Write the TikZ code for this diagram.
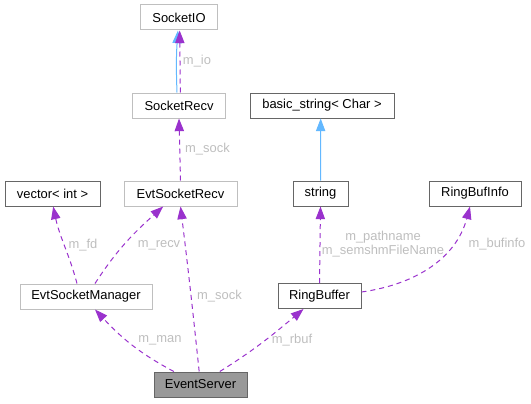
\documentclass[tikz,border=0pt]{standalone}
\usepackage{fontspec}
\setmainfont{Liberation Sans}
\usetikzlibrary{arrows.meta}
\definecolor{edgepurple}{HTML}{9A32CD}
\definecolor{edgeblue}{HTML}{63B8FF}
\definecolor{labelgrey}{HTML}{BEBEBE}
\definecolor{undocgrey}{HTML}{BFBFBF}
\definecolor{docgrey}{HTML}{666666}
\definecolor{selfgrey}{HTML}{999999}

\begin{document}
\begin{tikzpicture}[x=0.75pt,y=-0.75pt,
  txt/.style={font=\fontsize{9.7}{11}\selectfont},
  classbox/.style={txt,draw=docgrey,line width=0.75pt,minimum height=18.75pt,inner sep=0pt},
  extbox/.style={classbox,draw=undocgrey},
  selfbox/.style={classbox,fill=selfgrey},
  member/.style={draw=edgepurple,line width=0.75pt,dash pattern=on 3.75pt off 3pt,-{Triangle[length=9.5pt,width=7pt]}},
  inherit/.style={draw=edgeblue,line width=0.75pt,-{Triangle[length=9.5pt,width=7pt]}},
  memname/.style={txt,text=labelgrey,inner sep=0pt,align=center}]
\useasboundingbox (0,0) rectangle (531,403);
% top row
  \node[extbox,minimum width=57.5pt] (SocketIO) at (179,17.5) {SocketIO};
% second row
  \node[extbox,minimum width=69.5pt] (SocketRecv) at (179,105.5) {SocketRecv};
  \node[classbox,minimum width=108pt] (BasicString) at (322,105.5) {basic\_string< Char >};
% third row
  \node[classbox,minimum width=71.25pt] (VectorInt) at (52.5,193.5) {vector< int >};
  \node[extbox,minimum width=84.75pt] (EvtSocketRecv) at (180.5,193.5) {EvtSocketRecv};
  \node[classbox,minimum width=41.25pt] (String) at (320.5,193.5) {string};
  \node[classbox,minimum width=69pt] (RingBufInfo) at (475,193.5) {RingBufInfo};
% fourth row
  \node[extbox,minimum width=99pt] (EvtSocketManager) at (86,296.5) {EvtSocketManager};
  \node[classbox,minimum width=62.25pt] (RingBuffer) at (319.5,296) {RingBuffer};
% the class itself
  \node[selfbox,minimum width=69.75pt] (EventServer) at (200.5,384.5) {EventServer};

% SocketRecv
  \draw[inherit] ([xshift=-1.5pt]SocketRecv.north) to[bend left=3] ([xshift=-0.8pt]SocketIO.south);
  \draw[member] ([xshift=1pt]SocketRecv.north) -- ([xshift=0.5pt]SocketIO.south);
  \node[memname] (mio) at (197,61) {m\_io};
% EvtSocketRecv
  \draw[member] (EvtSocketRecv.north) -- (SocketRecv.south);
  \node[memname] (msockA) at (207.5,149) {m\_sock};
% string
  \draw[inherit] (String.north) -- ([xshift=-1pt]BasicString.south);
% EvtSocketManager
  \draw[member] ([xshift=-6.75pt]EvtSocketManager.north) to[out=105,in=-78] ([xshift=0.5pt]VectorInt.south);
  \node[memname] (mfd) at (83,245) {m\_fd};
  \draw[member] ([xshift=6.75pt]EvtSocketManager.north) to[out=57,in=-138] ([xshift=-13pt]EvtSocketRecv.south);
  \node[memname] (mrecv) at (159,245) {m\_recv};
% RingBuffer
  \draw[member] (RingBuffer.north) -- (String.south);
  \node[memname] (mpath) at (383,244) {m\_pathname\\m\_semshmFileName};
  \draw[member] ([yshift=3pt]RingBuffer.east) to[out=8,in=-105] ([xshift=-3.75pt]RingBufInfo.south);
  \node[memname] (mbufinfo) at (497,244) {m\_bufinfo};
% EventServer
  \draw[member] ([xshift=-1pt]EventServer.north) to[out=96,in=-83] (EvtSocketRecv.south);
  \node[memname] (msockB) at (219.5,296) {m\_sock};
  \draw[member] ([xshift=-20pt]EventServer.north) to[out=152,in=-47] ([xshift=6.75pt]EvtSocketManager.south);
  \node[memname] (mman) at (160,340) {m\_man};
  \draw[member] ([xshift=14.5pt]EventServer.north) to[out=32,in=-140] ([xshift=-12pt]RingBuffer.south);
  \node[memname] (mrbuf) at (292,340) {m\_rbuf};
\end{tikzpicture}
\end{document}
